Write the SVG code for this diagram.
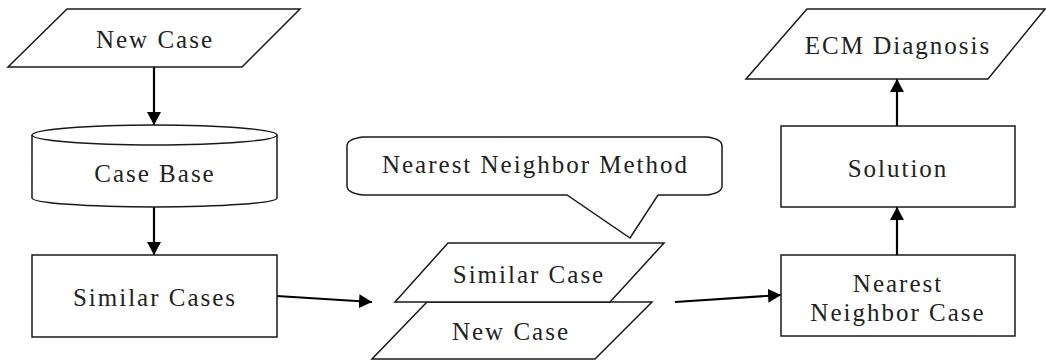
<svg xmlns="http://www.w3.org/2000/svg" width="1046" height="360" viewBox="0 0 1046 360">
  <defs>
    <marker id="arrow" markerUnits="userSpaceOnUse" markerWidth="14" markerHeight="15" refX="13" refY="7" orient="auto">
      <path d="M0,0 L13,7 L0,14 Z" fill="#000"/>
    </marker>
    <style>
      .shape { fill: #fff; stroke: #1a1a1a; stroke-width: 1.5; }
      .edge { fill: none; stroke: #000; stroke-width: 2.2; marker-end: url(#arrow); }
      .label { font-family: 'Liberation Serif', 'Times New Roman', serif; font-size: 25px; letter-spacing: 2px; fill: #222; text-anchor: middle; }
    </style>
  </defs>
  <rect width="1046" height="360" fill="#fff"/>

  <!-- connectors -->
  <g id="connectors">
    <line class="edge" x1="154" y1="67" x2="154" y2="125"/>
    <line class="edge" x1="154" y1="207" x2="154" y2="255"/>
    <line class="edge" x1="277" y1="296" x2="372" y2="302"/>
    <line class="edge" x1="675" y1="302" x2="781" y2="295"/>
    <line class="edge" x1="897" y1="255" x2="897" y2="207"/>
    <line class="edge" x1="897" y1="126" x2="897" y2="79"/>
  </g>

  <!-- input: new case -->
  <g id="new-case-input">
    <polygon class="shape" points="67,9 300,9 242,67 8,67"/>
    <text class="label" x="155" y="48">New Case</text>
  </g>

  <!-- case base store -->
  <g id="case-base">
    <path class="shape" d="M32,135 A122.5,10 0 0 1 277,135 L277,198 A122.5,9 0 0 1 32,198 Z"/>
    <path class="shape" fill="none" d="M32,135 A122.5,10 0 0 0 277,135"/>
    <text class="label" x="155" y="182">Case Base</text>
  </g>

  <!-- retrieved similar cases -->
  <g id="similar-cases">
    <rect class="shape" x="32" y="255" width="245" height="82"/>
    <text class="label" x="155" y="306">Similar Cases</text>
  </g>

  <!-- method callout -->
  <g id="method-callout">
    <path class="shape" d="M363,137 L707,137 Q722,139 722,146 L722,186 Q722,193 707,195 L658,195 L630,238 L567,195 L363,195 Q347,193 347,186 L347,146 Q347,139 363,137 Z"/>
    <text class="label" x="535.5" y="173">Nearest Neighbor Method</text>
  </g>

  <!-- compared pair: new case -->
  <g id="pair-new-case">
    <polygon class="shape" points="427,302 652,302 595,359 372,359"/>
    <text class="label" x="511" y="340">New Case</text>
  </g>

  <!-- compared pair: similar case -->
  <g id="pair-similar-case">
    <polygon class="shape" points="448,243 664,243 610,302 395,302"/>
    <text class="label" x="529" y="283">Similar Case</text>
  </g>

  <!-- nearest neighbor case -->
  <g id="nearest-neighbor-case">
    <rect class="shape" x="781" y="255" width="234" height="81"/>
    <text class="label" x="898" y="292">Nearest</text>
    <text class="label" x="898" y="321">Neighbor Case</text>
  </g>

  <!-- solution -->
  <g id="solution">
    <rect class="shape" x="781" y="126" width="234" height="81"/>
    <text class="label" x="898" y="177">Solution</text>
  </g>

  <!-- output: diagnosis -->
  <g id="ecm-diagnosis">
    <polygon class="shape" points="807,9 1045,9 988,79 746,79"/>
    <text class="label" x="898" y="54">ECM Diagnosis</text>
  </g>
</svg>
